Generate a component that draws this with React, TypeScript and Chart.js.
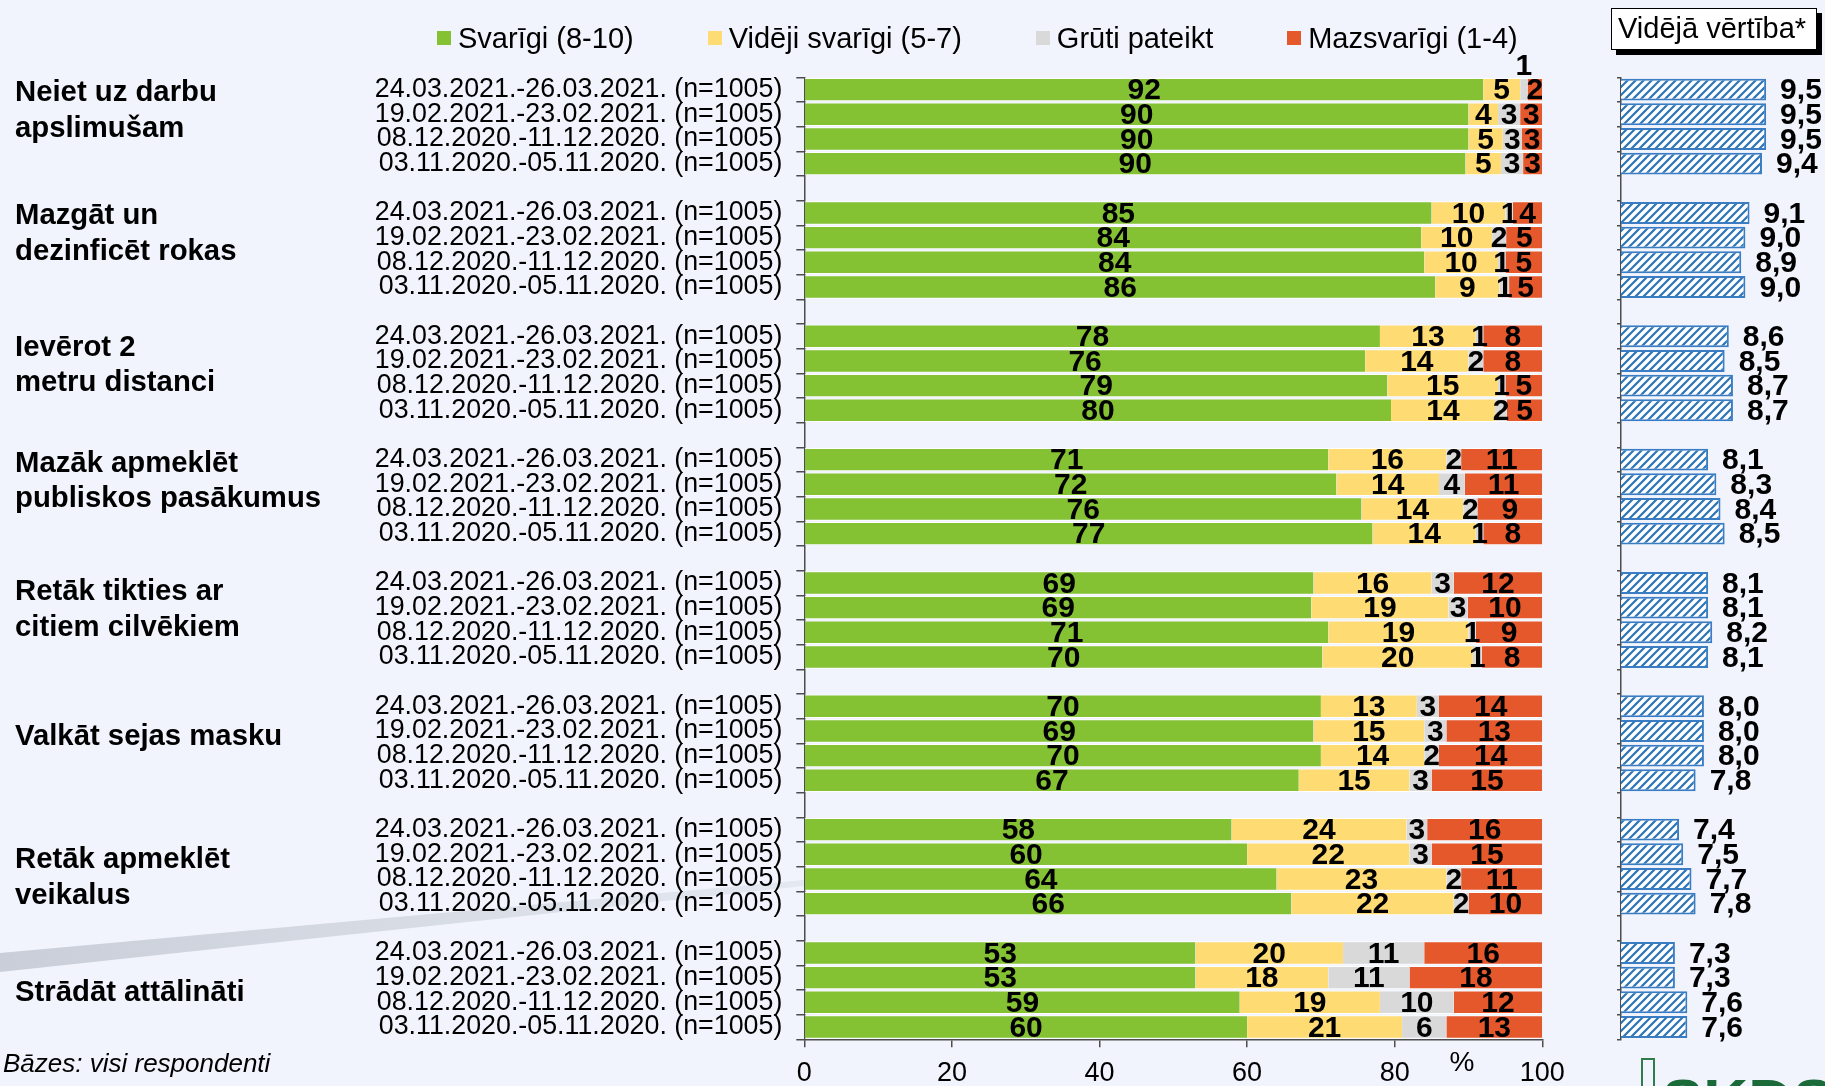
import React, { useEffect, useRef } from 'react';
import { Chart, registerables } from 'chart.js';

Chart.register(...registerables);

const FONT = '"Liberation Sans", Arial, Helvetica, sans-serif';

// ---------- data ----------
const GROUPS: string[][] = [
  ['Neiet uz darbu', 'apslimušam'],
  ['Mazgāt un', 'dezinficēt rokas'],
  ['Ievērot 2', 'metru distanci'],
  ['Mazāk apmeklēt', 'publiskos pasākumus'],
  ['Retāk tikties ar', 'citiem cilvēkiem'],
  ['Valkāt sejas masku'],
  ['Retāk apmeklēt', 'veikalus'],
  ['Strādāt attālināti'],
];

const PERIODS = [
  '24.03.2021.-26.03.2021. (n=1005)',
  '19.02.2021.-23.02.2021. (n=1005)',
  '08.12.2020.-11.12.2020. (n=1005)',
  '03.11.2020.-05.11.2020. (n=1005)',
];

const LEGEND = ['Svarīgi (8-10)', 'Vidēji svarīgi (5-7)', 'Grūti pateikt', 'Mazsvarīgi (1-4)'];

const SVARIGI = [
  92, 90, 90.0, 89.6,
  85, 83.6, 84, 85.5,
  78, 76, 79, 79.5,
  71, 72.1, 75.5, 77,
  69, 68.7, 71, 70.2,
  70, 69, 70, 67,
  57.9, 60, 64, 66,
  53, 53, 59, 60,
];
const VIDEJI = [
  5, 4, 4.65, 4.8,
  10, 9.6, 10, 8.7,
  13, 14, 15, 14.1,
  16, 13.9, 13.8, 14,
  16, 18.6, 19, 20.4,
  13, 15, 14, 15,
  23.7, 22, 23, 22,
  20, 18, 19, 21,
];
const GRUTI = [
  1, 3, 2.6, 3.0,
  1, 1.9, 1, 1.3,
  1, 2, 1, 1.6,
  2, 3.5, 1.9, 1,
  3, 2.6, 1, 1.2,
  3, 3, 2, 3,
  2.8, 3, 2, 2,
  11, 11, 10, 6,
];
const MAZSVARIGI = [
  2, 3, 2.75, 2.6,
  4, 4.9, 5, 4.5,
  8, 8, 5, 4.8,
  11, 10.5, 8.8, 8,
  12, 10.1, 9, 8.2,
  14, 13, 14, 15,
  15.6, 15, 11, 10,
  16, 18, 12, 13,
];
const VIDEJA_VERTIBA = [
  9.5, 9.5, 9.5, 9.4,
  9.1, 9.0, 8.9, 9.0,
  8.6, 8.5, 8.7, 8.7,
  8.1, 8.3, 8.4, 8.5,
  8.1, 8.1, 8.2, 8.1,
  8.0, 8.0, 8.0, 7.8,
  7.4, 7.5, 7.7, 7.8,
  7.3, 7.3, 7.6, 7.6,
];
const X_TICKS = [0, 20, 40, 60, 80, 100];
const MEAN_MIN = 6;
const MEAN_MAX = 10.92;

// ---------- styles / layout ----------
const COLORS = ['#84C234', '#FFDC73', '#D9D9D9', '#E5582B'];
const BLUE = '#2E75B6';
const BLUE_BORDER = '#3A7DC2';
const AXIS_COLOR = '#4D4D4D';
const BG = '#F1F4FD';
const W = 1825;
const H = 1086;
const TOP = 77.3;
const XAXIS_H = 46.7;
const AXIS_X = 804.3;
const PLOT_R = 1542.3;
const C1_W = 1600;
const MEAN_LEFT = 1560;
const MEAN_AXIS_X = 1621;
const GROUP_LABEL_SHIFT = [-15.6, -16, -8, -15, -10, -6.6, 11.5, 3];
const LIFTED = [{ ds: 2, row: 0 }];

const ROW_LABELS: string[] = [];
const ROW_INDEX: (number | null)[] = [];
GROUPS.forEach((_, g) => {
  PERIODS.forEach((p, k) => {
    ROW_LABELS.push(p);
    ROW_INDEX.push(g * PERIODS.length + k);
  });
  if (g < GROUPS.length - 1) {
    ROW_LABELS.push('');
    ROW_INDEX.push(null);
  }
});
const toRows = (arr: number[]) => ROW_INDEX.map((i) => (i === null ? null : arr[i]));

const valueLabels = {
  id: 'valueLabels',
  afterDatasetsDraw(chart: any) {
    const ctx = chart.ctx;
    ctx.save();
    ctx.font = `bold 30px ${FONT}`;
    ctx.fillStyle = '#000';
    ctx.textAlign = 'center';
    ctx.textBaseline = 'middle';
    chart.data.datasets.forEach((ds: any, di: number) => {
      const meta = chart.getDatasetMeta(di);
      meta.data.forEach((el: any, i: number) => {
        const v = ds.data[i];
        if (v == null) return;
        const p = el.getProps(['x', 'base', 'y'], true);
        let ty = p.y + 1.5;
        if (LIFTED.some((l) => l.ds === di && l.row === i)) ty = p.y - 23;
        ctx.fillText(String(Math.round(v)), (p.x + p.base) / 2, ty);
      });
    });
    ctx.restore();
  },
};

const groupLabels = {
  id: 'groupLabels',
  afterDraw(chart: any) {
    const ctx = chart.ctx;
    const ys = chart.scales.y;
    ctx.save();
    ctx.font = `bold 29.3px ${FONT}`;
    ctx.fillStyle = '#000';
    ctx.textAlign = 'left';
    ctx.textBaseline = 'middle';
    GROUPS.forEach((lines, g) => {
      const first = g * (PERIODS.length + 1);
      const c =
        (ys.getPixelForValue(first) + ys.getPixelForValue(first + PERIODS.length - 1)) / 2 +
        GROUP_LABEL_SHIFT[g];
      const n = lines.length;
      lines.forEach((t, k) => ctx.fillText(t, 15, c + (k - (n - 1) / 2) * 35.5));
    });
    ctx.restore();
  },
};

const meanLabels = {
  id: 'meanLabels',
  afterDatasetsDraw(chart: any) {
    const ctx = chart.ctx;
    ctx.save();
    ctx.font = `bold 30px ${FONT}`;
    ctx.fillStyle = '#000';
    ctx.textAlign = 'left';
    ctx.textBaseline = 'middle';
    const ds = chart.data.datasets[0];
    chart.getDatasetMeta(0).data.forEach((el: any, i: number) => {
      const v = ds.data[i];
      if (v == null) return;
      const p = el.getProps(['x', 'y'], true);
      ctx.fillText(v.toFixed(1).replace('.', ','), p.x + 14, p.y + 1.5);
    });
    ctx.restore();
  },
};

function makePattern(ctx: CanvasRenderingContext2D) {
  const s = 8;
  const pc = document.createElement('canvas');
  pc.width = s;
  pc.height = s;
  const c = pc.getContext('2d')!;
  c.fillStyle = BLUE;
  c.fillRect(0, 0, s, s);
  c.strokeStyle = '#ffffff';
  c.lineWidth = 3.4;
  c.beginPath();
  c.moveTo(-2, s + 2);
  c.lineTo(s + 2, -2);
  c.moveTo(-2, 2);
  c.lineTo(2, -2);
  c.moveTo(s - 2, s + 2);
  c.lineTo(s + 2, s - 2);
  c.stroke();
  return ctx.createPattern(pc, 'repeat');
}

export default function App() {
  const ref1 = useRef<HTMLCanvasElement>(null);
  const ref2 = useRef<HTMLCanvasElement>(null);

  useEffect(() => {
    document.body.style.margin = '0';
    const series = [SVARIGI, VIDEJI, GRUTI, MAZSVARIGI];
    const c1 = new Chart(ref1.current!, {
      type: 'bar',
      data: {
        labels: ROW_LABELS,
        datasets: LEGEND.map((l, k) => ({
          label: l,
          data: toRows(series[k]),
          backgroundColor: COLORS[k],
          borderColor: 'rgba(255,255,255,0.95)',
          borderWidth: { top: 1, bottom: 1, left: 0, right: 0 },
          borderSkipped: false,
          barPercentage: 0.95,
          categoryPercentage: 1,
        })),
      },
      options: {
        indexAxis: 'y',
        animation: false,
        responsive: false,
        maintainAspectRatio: false,
        layout: { padding: { top: TOP, left: 0, right: C1_W - PLOT_R, bottom: 0 } },
        plugins: { legend: { display: false }, tooltip: { enabled: false } },
        scales: {
          x: {
            type: 'linear',
            stacked: true,
            min: 0,
            max: 100,
            afterFit: (s: any) => {
              s.height = XAXIS_H;
            },
            afterBuildTicks: (s: any) => {
              s.ticks = X_TICKS.map((v) => ({ value: v }));
            },
            ticks: { font: { size: 27, family: FONT }, color: '#000', padding: 10, maxRotation: 0 },
            grid: { drawOnChartArea: false, drawTicks: true, tickLength: 8, color: AXIS_COLOR, lineWidth: 1.5 },
            border: { display: true, color: AXIS_COLOR, width: 1.5 },
          },
          y: {
            type: 'category',
            stacked: true,
            offset: true,
            afterFit: (s: any) => {
              s.width = AXIS_X;
            },
            ticks: { autoSkip: false, font: { size: 26.8, family: FONT }, color: '#000', padding: 14 },
            grid: { drawOnChartArea: false, offset: true, tickLength: 8, color: AXIS_COLOR, lineWidth: 1.5 },
            border: { display: true, color: AXIS_COLOR, width: 1.5 },
          },
        },
      } as any,
      plugins: [valueLabels, groupLabels],
    });

    const ctx2 = ref2.current!.getContext('2d')!;
    const pattern = makePattern(ctx2);
    const c2 = new Chart(ref2.current!, {
      type: 'bar',
      data: {
        labels: ROW_LABELS,
        datasets: [
          {
            label: 'Vidējā vērtība*',
            data: toRows(VIDEJA_VERTIBA),
            backgroundColor: pattern as any,
            borderColor: BLUE_BORDER,
            borderWidth: 2,
            borderSkipped: false,
            barPercentage: 0.89,
            categoryPercentage: 1,
          },
        ],
      },
      options: {
        indexAxis: 'y',
        animation: false,
        responsive: false,
        maintainAspectRatio: false,
        layout: { padding: { top: TOP, left: 0, right: 0, bottom: XAXIS_H } },
        plugins: { legend: { display: false }, tooltip: { enabled: false } },
        scales: {
          x: { type: 'linear', display: false, min: MEAN_MIN, max: MEAN_MAX },
          y: {
            type: 'category',
            offset: true,
            afterFit: (s: any) => {
              s.width = MEAN_AXIS_X - MEAN_LEFT;
            },
            ticks: { display: false },
            grid: { drawOnChartArea: false, offset: true, tickLength: 4, color: AXIS_COLOR, lineWidth: 1.5 },
            border: { display: true, color: AXIS_COLOR, width: 1.5 },
          },
        },
      } as any,
      plugins: [meanLabels],
    });

    return () => {
      c1.destroy();
      c2.destroy();
    };
  }, []);

  return (
    <div
      style={{
        position: 'absolute',
        left: 0,
        top: 0,
        width: W,
        height: H,
        background: BG,
        overflow: 'hidden',
        fontFamily: FONT,
        color: '#000',
      }}
    >
      <svg width={W} height={H} style={{ position: 'absolute', left: 0, top: 0 }}>
        <defs>
          <linearGradient id="sw" x1="0" y1="0" x2="1" y2="0">
            <stop offset="0" stopColor="#C9CED8" />
            <stop offset="1" stopColor="#E4E8F1" />
          </linearGradient>
        </defs>
        <polygon points="0,953 804,880 804,886 0,972" fill="url(#sw)" />
      </svg>

      <canvas ref={ref1} width={C1_W} height={H} style={{ position: 'absolute', left: 0, top: 0 }} />
      <canvas
        ref={ref2}
        width={W - MEAN_LEFT}
        height={H}
        style={{ position: 'absolute', left: MEAN_LEFT, top: 0 }}
      />

      <div
        style={{
          position: 'absolute',
          left: 437,
          top: 20,
          display: 'flex',
          alignItems: 'center',
          gap: 74,
          fontSize: 29,
          lineHeight: '36px',
          whiteSpace: 'nowrap',
        }}
      >
        {LEGEND.map((l, k) => (
          <div key={l} style={{ display: 'flex', alignItems: 'center' }}>
            <span style={{ display: 'inline-block', width: 14, height: 14, background: COLORS[k], marginRight: 7 }} />
            <span>{l}</span>
          </div>
        ))}
      </div>

      <div
        style={{
          position: 'absolute',
          left: 1611,
          top: 8,
          width: 206,
          height: 42,
          boxSizing: 'border-box',
          border: '1.5px solid #000',
          background: '#fff',
          boxShadow: '5px 5px 0 #000',
          fontSize: 29,
          lineHeight: '39px',
          paddingLeft: 6,
          whiteSpace: 'nowrap',
        }}
      >
        Vidējā vērtība*
      </div>

      <div
        style={{
          position: 'absolute',
          left: 1462,
          top: 1062,
          transform: 'translate(-50%, -50%)',
          fontSize: 28,
          lineHeight: 1,
        }}
      >
        %
      </div>

      <div
        style={{
          position: 'absolute',
          left: 3,
          top: 1063,
          transform: 'translateY(-50%)',
          fontSize: 26,
          fontStyle: 'italic',
          lineHeight: 1,
          whiteSpace: 'nowrap',
        }}
      >
        Bāzes: visi respondenti
      </div>

      <div
        style={{
          position: 'absolute',
          left: 1641,
          top: 1058,
          width: 14,
          height: 40,
          boxSizing: 'border-box',
          border: '2px solid #2E7D4F',
        }}
      />
      <div
        style={{
          position: 'absolute',
          left: 1662,
          top: 1070,
          fontSize: 62,
          fontWeight: 'bold',
          lineHeight: 1,
          color: '#1B6A3A',
          whiteSpace: 'nowrap',
        }}
      >
        SKDS
      </div>
    </div>
  );
}
